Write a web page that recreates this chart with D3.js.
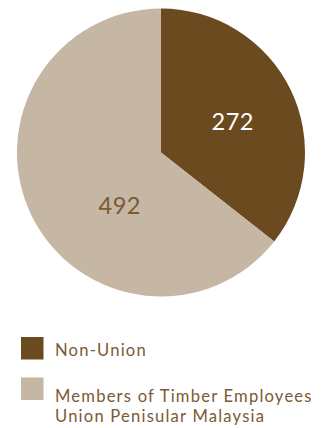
<!DOCTYPE html>
<html>
<head>
<meta charset="utf-8">
<script src="https://cdn.jsdelivr.net/npm/d3@7/dist/d3.min.js"></script>
<style>
  html, body { margin: 0; padding: 0; background: #fff; }
  svg { display: block; }
</style>
</head>
<body>
<svg id="chart" width="323" height="428"></svg>
<script>
// Membership breakdown
const categories = ["Non-Union", "Members of Timber Employees Union Penisular Malaysia"];
const values = [272, 492];
const legendLines = [["Non-Union"], ["Members of Timber Employees", "Union Penisular Malaysia"]];

const colors = ["#6b4a1f", "#c6b6a4"];
const labelColors = ["#ffffff", "#7a5a33"];
const textColor = "#7a5a36";
const fontFamily = "Lato, 'Noto Sans', sans-serif";

const svg = d3.select("#chart");
const cx = 161, cy = 152.5, radius = 144;

const pie = d3.pie().sort(null).value(d => d)(values);
const arc = d3.arc().innerRadius(0).outerRadius(radius);

const g = svg.append("g").attr("transform", `translate(${cx},${cy})`);

g.selectAll("path")
  .data(pie)
  .join("path")
  .attr("d", arc)
  .attr("fill", (d, i) => colors[i]);

// value labels, placed along a chosen direction inside each slice
const labelPlacement = [
  { angle: 67 * Math.PI / 180, r: 78 },
  { angle: 218 * Math.PI / 180, r: 67 }
];
g.selectAll("text.value")
  .data(pie)
  .join("text")
  .attr("class", "value")
  .attr("x", (d, i) => labelPlacement[i].r * Math.sin(labelPlacement[i].angle))
  .attr("y", (d, i) => -labelPlacement[i].r * Math.cos(labelPlacement[i].angle))
  .attr("dy", "0.35em")
  .attr("text-anchor", "middle")
  .attr("font-family", fontFamily)
  .attr("font-size", 23.5)
  .attr("letter-spacing", 0.5)
  .attr("fill", (d, i) => labelColors[i])
  .text(d => d.data);

// legend
const legendTops = [337, 377.5];
const legend = svg.append("g");
categories.forEach((c, i) => {
  legend.append("rect")
    .attr("x", 21).attr("y", legendTops[i])
    .attr("width", 22.5).attr("height", 22.5)
    .attr("fill", colors[i]);
  legendLines[i].forEach((line, j) => {
    legend.append("text")
      .attr("x", 55)
      .attr("y", legendTops[i] + (i === 0 ? 18.7 : 24.2) + j * 20)
      .attr("font-family", fontFamily)
      .attr("font-size", 16.6)
      .attr("letter-spacing", 1.2)
      .attr("fill", textColor)
      .text(line);
  });
});
</script>
</body>
</html>
